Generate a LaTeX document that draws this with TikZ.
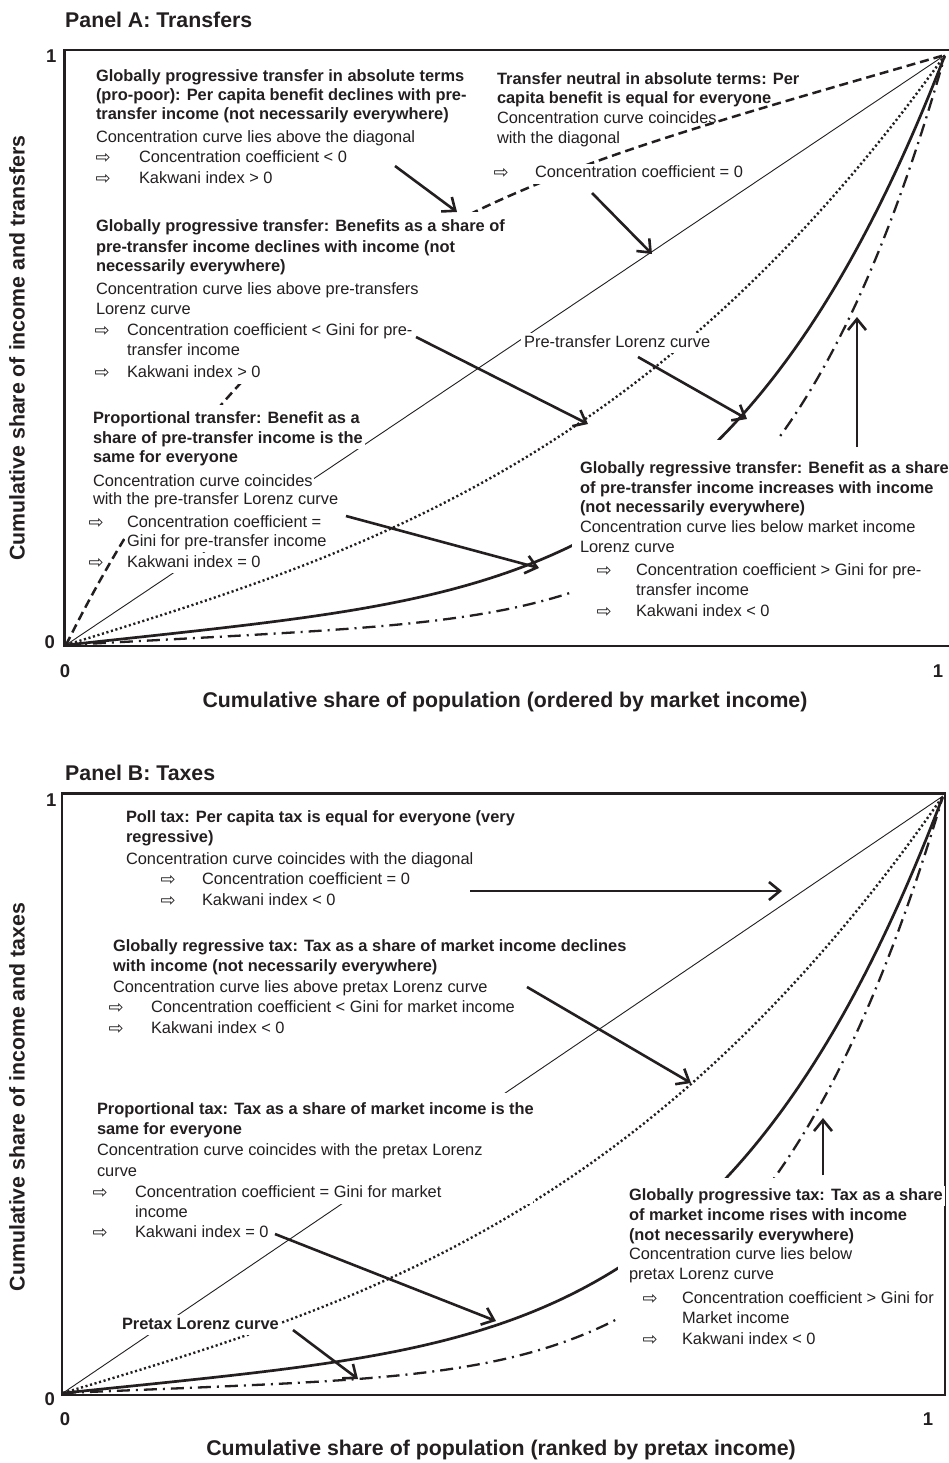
\documentclass[tikz,border=0pt]{standalone}
\usepackage{fontspec}
\setmainfont{Liberation Sans}
\newfontfamily\symf{DejaVu Sans}
\usetikzlibrary{arrows.meta}
\definecolor{ink}{RGB}{35,31,32}
\newcommand\fsz{\fontsize{16.4pt}{20pt}\selectfont}
\newcommand\bigf{\fontsize{21.3pt}{25pt}\selectfont\bfseries}
\newcommand\tickf{\fontsize{18.5pt}{22pt}\selectfont\bfseries}
\begin{document}
\begin{tikzpicture}[x=1pt,y=-1pt,
  txt/.style={anchor=base west, inner sep=1.8pt, text=ink, font=\fsz, text height=12.5pt, text depth=4pt},
  wtxt/.style={txt, fill=white},
  htxt/.style={wtxt, font=\fsz\bfseries},
  hnf/.style={txt, font=\fsz\bfseries},
  bul/.style={anchor=base west, inner sep=0.5pt, text=ink, fill=white, yshift=-1pt, font=\symf\fontsize{18pt}{20pt}\selectfont},
  tick/.style={font=\tickf, text=ink, inner sep=0pt},
  big/.style={font=\bigf, text=ink, inner sep=0pt},
  frame/.style={draw=ink, line width=2.4pt},
  diag/.style={draw=ink, line width=0.9pt},
  lor/.style={draw=ink, line width=2.7pt},
  dsh/.style={draw=ink, line width=2.5pt, dash pattern=on 9pt off 5pt},
  dotc/.style={draw=ink, line width=2.4pt, dash pattern=on 2.1pt off 2.6pt},
  ddc/.style={draw=ink, line width=2.3pt, dash pattern=on 13pt off 6pt on 2pt off 6pt},
  arr/.style={draw=ink, line width=2.6pt, -{Straight Barb[length=11pt,width=18pt]}},
  maskc/.style={fill=white},
  ]
\useasboundingbox (0,0) rectangle (949,1463);
\fill[white] (0,0) rectangle (949,1463);

% ================= Panel A curves =================
\draw[diag] (66,645) -- (945,55);
\draw[dsh] plot[domain=0:1,samples=160] ({66+879*\x},{645-590*(1-0.43*(1-\x)-0.285*(1-\x)*(1-\x)*(1-\x)*(1-\x)-0.285*(1-\x)*(1-\x)*(1-\x)*(1-\x)*(1-\x))});
\draw[dotc] plot[domain=0:1,samples=160] ({66+879*\x},{645-590*(0.46*\x+0.54*\x*\x*\x)});
\draw[lor] plot[domain=0:1,samples=160] ({66+879*\x},{645-590*(0.16*\x+0.5*\x*\x*\x*\x+0.34*\x*\x*\x*\x*\x)});
\draw[ddc] plot[domain=0:1,samples=160] ({66+879*\x},{645-590*(0.08*\x+0.37*\x*\x*\x*\x*\x+0.55*\x*\x*\x*\x*\x*\x)});

% ================= Panel B curves =================
\draw[diag] (63,1393) -- (943,796);
\draw[dotc] plot[domain=0:1,samples=160] ({63+880*\x},{1393-597*(0.44*\x+0.56*\x*\x*\x)});
\draw[lor] plot[domain=0:1,samples=160] ({63+880*\x},{1393-597*(0.15*\x+0.51*\x*\x*\x*\x+0.34*\x*\x*\x*\x*\x)});
\draw[ddc] plot[domain=0:1,samples=160] ({63+880*\x},{1393-597*(0.06*\x+0.75*\x*\x*\x*\x*\x+0.19*\x*\x*\x*\x*\x*\x)});

% ================= masks behind text blocks =================
\fill[maskc] (89,212) rectangle (508,318);
\fill[maskc] (89,318) rectangle (420,384);
\fill[maskc] (89,405) rectangle (300,515);
\fill[maskc] (572,440) rectangle (955,622);
\fill[maskc] (90,1093) rectangle (533,1204);
\fill[maskc] (618,1178) rectangle (943,1352);

% ================= frames =================
\draw[frame] (64.5,50) rectangle (953,646);
\draw[frame] (62,793.5) rectangle (945,1395);

% ================= Panel A text =================
\node[big, anchor=base west] (tA) at (65,28) {Panel A: Transfers};
\node[tick, anchor=base east] (yA1) at (56.5,63) {1};
\node[tick, anchor=base east] (yA0) at (55,648) {0};
\node[tick, anchor=base] (xA0) at (65,677) {0};
\node[tick, anchor=base] (xA1) at (938,677) {1};
\node[big, anchor=base] (xlA) at (505,707) {Cumulative share of population (ordered by market income)};
\node[big, rotate=90] (ylA) at (17,348) {Cumulative share of income and transfers};

% H1
\node[htxt] (a1l1) at (94,82) {Globally progressive transfer in absolute terms};
\node[htxt] (a1l2) at (94,101) {(pro-poor): Per capita benefit declines with pre-};
\node[htxt] (a1l3) at (94,120) {transfer income (not necessarily everywhere)};
\node[wtxt] (a1l4) at (94,143) {Concentration curve lies above the diagonal};
\node[bul] (a1b1) at (95,163) {⇨};
\node[wtxt] (a1t1) at (137,163) {Concentration coefficient < 0};
\node[bul] (a1b2) at (95,184) {⇨};
\node[wtxt] (a1t2) at (137,184) {Kakwani index > 0};

% H2
\node[hnf] (a2l1) at (495,85) {Transfer neutral in absolute terms: Per};
\node[hnf] (a2l2) at (495,104) {capita benefit is equal for everyone};
\node[txt] (a2l3) at (495,124) {Concentration curve coincides};
\node[txt] (a2l4) at (495,144) {with the diagonal};
\node[bul] (a2b1) at (493,178) {⇨};
\node[wtxt] (a2t1) at (533,178) {Concentration coefficient = 0};

% H3
\node[htxt] (a3l1) at (94,232) {Globally progressive transfer: Benefits as a share of};
\node[htxt] (a3l2) at (94,252) {pre-transfer income declines with income (not};
\node[htxt] (a3l3) at (94,271) {necessarily everywhere)};
\node[wtxt] (a3l4) at (94,294) {Concentration curve lies above pre-transfers};
\node[wtxt] (a3l5) at (94,314) {Lorenz curve};
\node[bul] (a3b1) at (94,335) {⇨};
\node[wtxt] (a3t1) at (125,335) {Concentration coefficient < Gini for pre-};
\node[wtxt] (a3t1b) at (125,355) {transfer income};
\node[bul] (a3b2) at (94,377) {⇨};
\node[wtxt] (a3t2) at (125,377) {Kakwani index > 0};

% H4
\node[htxt] (a4l1) at (91,423) {Proportional transfer: Benefit as a};
\node[htxt] (a4l2) at (91,443) {share of pre-transfer income is the};
\node[htxt] (a4l3) at (91,462) {same for everyone};
\node[wtxt] (a4l4) at (91,486) {Concentration curve coincides};
\node[wtxt] (a4l5) at (91,504) {with the pre-transfer Lorenz curve};
\node[bul] (a4b1) at (88,527) {⇨};
\node[wtxt] (a4t1) at (125,527) {Concentration coefficient =};
\node[wtxt] (a4t1b) at (125,546) {Gini for pre-transfer income};
\node[bul] (a4b2) at (88,567) {⇨};
\node[wtxt] (a4t2) at (125,567) {Kakwani index = 0};

% label
\node[wtxt, inner xsep=3pt] (aLor) at (521,347) {Pre-transfer Lorenz curve};

% H5
\node[htxt] (a5l1) at (578,473) {Globally regressive transfer: Benefit as a share};
\node[htxt] (a5l2) at (578,493) {of pre-transfer income increases with income};
\node[htxt] (a5l3) at (578,512) {(not necessarily everywhere)};
\node[wtxt] (a5l4) at (578,532) {Concentration curve lies below market income};
\node[wtxt] (a5l5) at (578,552) {Lorenz curve};
\node[bul] (a5b1) at (596,575) {⇨};
\node[wtxt] (a5t1) at (634,575) {Concentration coefficient > Gini for pre-};
\node[wtxt] (a5t1b) at (634,595) {transfer income};
\node[bul] (a5b2) at (596,616) {⇨};
\node[wtxt] (a5t2) at (634,616) {Kakwani index < 0};

% ================= Panel B text =================
\node[big, anchor=base west] (tB) at (65,780) {Panel B: Taxes};
\node[tick, anchor=base east] (yB1) at (56.5,806) {1};
\node[tick, anchor=base east] (yB0) at (55,1405) {0};
\node[tick, anchor=base] (xB0) at (65,1425) {0};
\node[tick, anchor=base] (xB1) at (928,1425) {1};
\node[big, anchor=base] (xlB) at (501,1455) {Cumulative share of population (ranked by pretax income)};
\node[big, rotate=90] (ylB) at (17,1097) {Cumulative share of income and taxes};

% B1
\node[htxt] (b1l1) at (124,822) {Poll tax: Per capita tax is equal for everyone (very};
\node[htxt] (b1l2) at (124,842) {regressive)};
\node[wtxt] (b1l3) at (124,864) {Concentration curve coincides with the diagonal};
\node[bul] (b1b1) at (160,884) {⇨};
\node[wtxt] (b1t1) at (200,884) {Concentration coefficient = 0};
\node[bul] (b1b2) at (160,905) {⇨};
\node[wtxt] (b1t2) at (200,905) {Kakwani index < 0};

% B2
\node[htxt] (b2l1) at (111,951) {Globally regressive tax: Tax as a share of market income declines};
\node[htxt] (b2l2) at (111,971) {with income (not necessarily everywhere)};
\node[wtxt] (b2l3) at (111,992) {Concentration curve lies above pretax Lorenz curve};
\node[bul] (b2b1) at (108,1012) {⇨};
\node[wtxt] (b2t1) at (149,1012) {Concentration coefficient < Gini for market income};
\node[bul] (b2b2) at (108,1033) {⇨};
\node[wtxt] (b2t2) at (149,1033) {Kakwani index < 0};

% B3
\node[htxt] (b3l1) at (95,1114) {Proportional tax: Tax as a share of market income is the};
\node[htxt] (b3l2) at (95,1134) {same for everyone};
\node[wtxt] (b3l3) at (95,1155) {Concentration curve coincides with the pretax Lorenz};
\node[wtxt] (b3l4) at (95,1176) {curve};
\node[bul] (b3b1) at (92,1197) {⇨};
\node[wtxt] (b3t1) at (133,1197) {Concentration coefficient = Gini for market};
\node[wtxt] (b3t1b) at (133,1217) {income};
\node[bul] (b3b2) at (92,1237) {⇨};
\node[wtxt] (b3t2) at (133,1237) {Kakwani index = 0};

% label
\node[htxt] (bLor) at (120,1329) {Pretax Lorenz curve};

% B4
\node[htxt] (b4l1) at (627,1200) {Globally progressive tax: Tax as a share};
\node[htxt] (b4l2) at (627,1220) {of market income rises with income};
\node[htxt] (b4l3) at (627,1240) {(not necessarily everywhere)};
\node[wtxt] (b4l4) at (627,1259) {Concentration curve lies below};
\node[wtxt] (b4l5) at (627,1279) {pretax Lorenz curve};
\node[bul] (b4b1) at (642,1303) {⇨};
\node[wtxt] (b4t1) at (680,1303) {Concentration coefficient > Gini for};
\node[wtxt] (b4t1b) at (680,1323) {Market income};
\node[bul] (b4b2) at (642,1344) {⇨};
\node[wtxt] (b4t2) at (680,1344) {Kakwani index < 0};

% ================= arrows =================
\coordinate (p1s) at (395,166); \coordinate (p1e) at (457,212);
\coordinate (p2s) at (592,193); \coordinate (p2e) at (652,254);
\coordinate (p3s) at (416,337); \coordinate (p3e) at (588,424);
\coordinate (p4s) at (638,357); \coordinate (p4e) at (747,419);
\coordinate (p5s) at (346,516); \coordinate (p5e) at (539,568);
\coordinate (p6s) at (857,447); \coordinate (p6e) at (857,317);
\draw[arr] (p1s) -- (p1e);
\draw[arr] (p2s) -- (p2e);
\draw[arr] (p3s) -- (p3e);
\draw[arr] (p4s) -- (p4e);
\draw[arr] (p5s) -- (p5e);
\draw[arr] (p6s) -- (p6e);

\coordinate (q1s) at (470,891); \coordinate (q1e) at (782,891);
\coordinate (q2s) at (527,987); \coordinate (q2e) at (691,1083);
\coordinate (q3s) at (275,1234); \coordinate (q3e) at (496,1321);
\coordinate (q4s) at (293,1330); \coordinate (q4e) at (358,1379);
\coordinate (q5s) at (823,1175); \coordinate (q5e) at (823,1118);
\draw[arr] (q1s) -- (q1e);
\draw[arr] (q2s) -- (q2e);
\draw[arr] (q3s) -- (q3e);
\draw[arr] (q4s) -- (q4e);
\draw[arr] (q5s) -- (q5e);
\end{tikzpicture}
\end{document}
